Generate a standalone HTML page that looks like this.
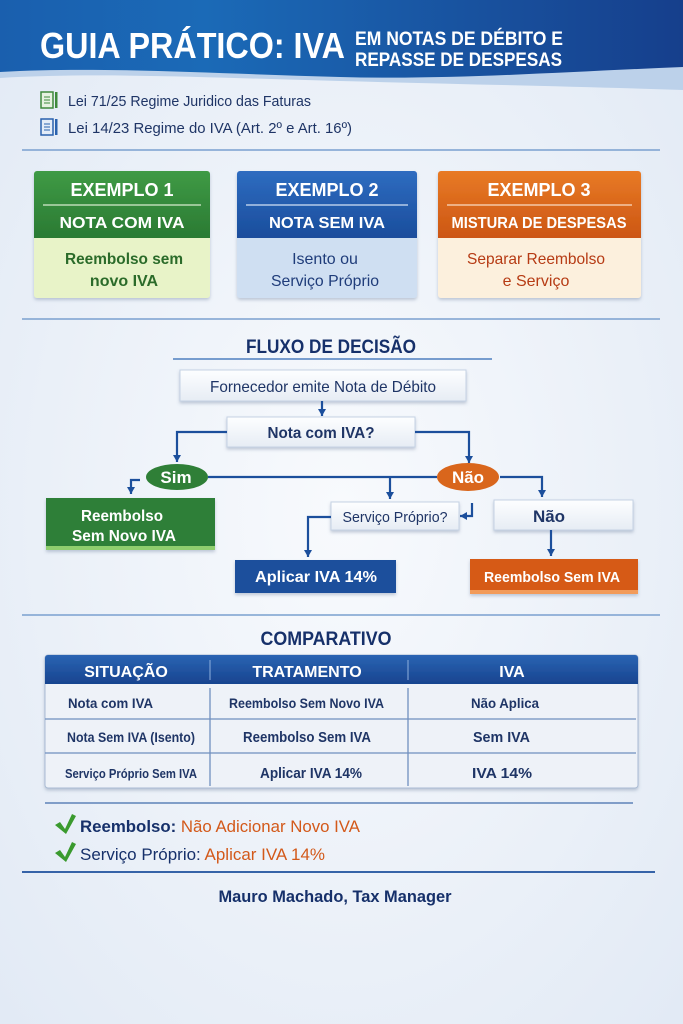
<!DOCTYPE html>
<html><head><meta charset="utf-8"><style>
html,body{margin:0;padding:0;width:683px;height:1024px;overflow:hidden}
text{font-family:"Liberation Sans Narrow","Liberation Sans",sans-serif;font-weight:bold}
</style></head><body>
<svg width="683" height="1024" viewBox="0 0 683 1024" xmlns="http://www.w3.org/2000/svg">
<defs>
<radialGradient id="bg" cx="50%" cy="50%" r="70%"><stop offset="0" stop-color="#f8fafd"/><stop offset="1" stop-color="#e2eaf5"/></radialGradient>
<linearGradient id="hd" x1="0" y1="0" x2="1" y2="0"><stop offset="0" stop-color="#1a5fae"/><stop offset="0.3" stop-color="#1b6ab7"/><stop offset="1" stop-color="#163f8c"/></linearGradient>
<linearGradient id="gH" x1="0" y1="0" x2="0" y2="1"><stop offset="0" stop-color="#3f9a45"/><stop offset="1" stop-color="#2a7a33"/></linearGradient>
<linearGradient id="bH" x1="0" y1="0" x2="0" y2="1"><stop offset="0" stop-color="#2e6cc0"/><stop offset="1" stop-color="#1a4d9c"/></linearGradient>
<linearGradient id="oH" x1="0" y1="0" x2="0" y2="1"><stop offset="0" stop-color="#e87a25"/><stop offset="1" stop-color="#cc5614"/></linearGradient>
<linearGradient id="tH" x1="0" y1="0" x2="0" y2="1"><stop offset="0" stop-color="#2a64b3"/><stop offset="1" stop-color="#18448f"/></linearGradient>
<linearGradient id="wb" x1="0" y1="0" x2="0" y2="1"><stop offset="0" stop-color="#fdfeff"/><stop offset="1" stop-color="#e6ecf4"/></linearGradient>
<marker id="ar" markerWidth="8" markerHeight="8" refX="7" refY="4" orient="auto" markerUnits="userSpaceOnUse"><path d="M0,0 L7,4 L0,8 Z" fill="#1c4f9c"/></marker>
<filter id="sh" x="-10%" y="-10%" width="120%" height="130%"><feDropShadow dx="0" dy="2" stdDeviation="1.5" flood-color="#5a6f90" flood-opacity="0.35"/></filter>
</defs>
<rect width="683" height="1024" fill="url(#bg)"/>
<!-- header -->
<path d="M0,0 H683 V90 C560,86 450,84 340,81 C220,78 100,72 0,78 Z" fill="#bcd1ea"/>
<path d="M0,0 H683 V67 C560,72 450,80 340,77 C220,74 100,66 0,72 Z" fill="url(#hd)"/>
<text x="40" y="58" font-size="36" fill="#fff" textLength="305" lengthAdjust="spacingAndGlyphs">GUIA PRÁTICO: IVA</text>
<text x="355" y="45" font-size="19" fill="#fff" textLength="208" lengthAdjust="spacingAndGlyphs">EM NOTAS DE DÉBITO E</text>
<text x="355" y="66" font-size="19" fill="#fff" textLength="207" lengthAdjust="spacingAndGlyphs">REPASSE DE DESPESAS</text>
<!-- laws -->
<g><rect x="41" y="92" width="12" height="16" fill="#e6f2e0" stroke="#3f8a3b" stroke-width="1.5"/><path d="M44,97h6M44,100h6M44,103h6" stroke="#3f8a3b"/><rect x="55" y="92" width="2.5" height="16" fill="#3f8a3b"/></g>
<text x="68" y="106" font-size="15" fill="#1f3566" style="font-weight:normal" textLength="243" lengthAdjust="spacingAndGlyphs">Lei 71/25 Regime Juridico das Faturas</text>
<g><rect x="41" y="119" width="12" height="16" fill="#e3ecf8" stroke="#2a62ae" stroke-width="1.5"/><path d="M44,124h6M44,127h6M44,130h6" stroke="#2a62ae"/><rect x="55" y="119" width="2.5" height="16" fill="#2a62ae"/></g>
<text x="68" y="133" font-size="15" fill="#1f3566" style="font-weight:normal" textLength="284" lengthAdjust="spacingAndGlyphs">Lei 14/23 Regime do IVA (Art. 2º e Art. 16º)</text>
<line x1="22" y1="150" x2="660" y2="150" stroke="#7aa0cf" stroke-width="1.5"/>
<!-- cards -->
<g filter="url(#sh)">
<rect x="34" y="171" width="176" height="127" rx="3" fill="#e8f3c8"/>
<path d="M34,174 a3,3 0 0 1 3,-3 h170 a3,3 0 0 1 3,3 V238 H34 Z" fill="url(#gH)"/>
<rect x="237" y="171" width="180" height="127" rx="3" fill="#cfdff2"/>
<path d="M237,174 a3,3 0 0 1 3,-3 h174 a3,3 0 0 1 3,3 V238 H237 Z" fill="url(#bH)"/>
<rect x="438" y="171" width="203" height="127" rx="3" fill="#fcf0dd"/>
<path d="M438,174 a3,3 0 0 1 3,-3 h197 a3,3 0 0 1 3,3 V238 H438 Z" fill="url(#oH)"/>
</g>
<line x1="43" y1="205" x2="201" y2="205" stroke="#d8ecd0" stroke-width="1.2"/>
<line x1="246" y1="205" x2="408" y2="205" stroke="#d4e2f5" stroke-width="1.2"/>
<line x1="447" y1="205" x2="632" y2="205" stroke="#fbdcc2" stroke-width="1.2"/>
<g font-size="18" fill="#fff" text-anchor="middle">
<text x="122" y="196">EXEMPLO 1</text><text x="327" y="196">EXEMPLO 2</text><text x="539" y="196">EXEMPLO 3</text>
</g>
<g font-size="16" fill="#fff" text-anchor="middle">
<text x="122" y="228" textLength="125" lengthAdjust="spacingAndGlyphs">NOTA COM IVA</text>
<text x="327" y="228" textLength="116" lengthAdjust="spacingAndGlyphs">NOTA SEM IVA</text>
<text x="539" y="228" textLength="175" lengthAdjust="spacingAndGlyphs">MISTURA DE DESPESAS</text>
</g>
<g font-size="16" text-anchor="middle">
<text x="124" y="264" fill="#2b6b2a" textLength="118" lengthAdjust="spacingAndGlyphs">Reembolso sem</text>
<text x="124" y="286" fill="#2b6b2a">novo IVA</text>
<text x="325" y="264" fill="#1f3c7a" style="font-weight:normal">Isento ou</text>
<text x="325" y="286" fill="#1f3c7a" style="font-weight:normal" textLength="108" lengthAdjust="spacingAndGlyphs">Serviço Próprio</text>
<text x="536" y="264" fill="#b63b14" style="font-weight:normal" textLength="138" lengthAdjust="spacingAndGlyphs">Separar Reembolso</text>
<text x="536" y="286" fill="#b63b14" style="font-weight:normal">e Serviço</text>
</g>
<line x1="22" y1="319" x2="660" y2="319" stroke="#7aa0cf" stroke-width="1.5"/>
<!-- flow -->
<text x="331" y="353" font-size="19" fill="#16306a" text-anchor="middle" textLength="170" lengthAdjust="spacingAndGlyphs">FLUXO DE DECISÃO</text>
<line x1="173" y1="359" x2="492" y2="359" stroke="#4e7fbf" stroke-width="1.5"/>
<g filter="url(#sh)">
<rect x="180" y="370" width="286" height="31" fill="url(#wb)" stroke="#c5d2e4"/>
<rect x="227" y="417" width="188" height="30" fill="url(#wb)" stroke="#c5d2e4"/>
<rect x="331" y="502" width="128" height="28" fill="url(#wb)" stroke="#c5d2e4"/>
<rect x="494" y="500" width="139" height="30" fill="url(#wb)" stroke="#c5d2e4"/>
<rect x="46" y="498" width="169" height="52" fill="#2f7f37"/>
<rect x="235" y="560" width="161" height="33" fill="#1c4f9c"/>
<rect x="470" y="559" width="168" height="35" fill="#d65a18"/>
</g>
<rect x="46" y="546" width="169" height="4" fill="#8fce6e"/>
<rect x="470" y="590" width="168" height="4" fill="#f29b5a"/>
<g stroke="#1c4f9c" stroke-width="2.2" fill="none">
<path d="M322,401 V416" marker-end="url(#ar)"/>
<path d="M227,432 H177 V462" marker-end="url(#ar)"/>
<path d="M415,432 H469 V463" marker-end="url(#ar)"/>
<path d="M208,477 H437"/>
<path d="M390,477 V499" marker-end="url(#ar)"/>
<path d="M500,477 H542 V497" marker-end="url(#ar)"/>
<path d="M140,480 H131 V494" marker-end="url(#ar)"/>
<path d="M472,503 V516 H460" marker-end="url(#ar)"/>
<path d="M331,517 H308 V557" marker-end="url(#ar)"/>
<path d="M551,530 V556" marker-end="url(#ar)"/>
</g>
<ellipse cx="177" cy="477" rx="31" ry="13" fill="#2f7f37"/>
<ellipse cx="468" cy="477" rx="31" ry="14" fill="#d9661c"/>
<g font-size="16" text-anchor="middle">
<text x="323" y="392" fill="#1f3566" style="font-weight:normal" textLength="226" lengthAdjust="spacingAndGlyphs">Fornecedor emite Nota de Débito</text>
<text x="321" y="438" fill="#1f3566" textLength="107" lengthAdjust="spacingAndGlyphs">Nota com IVA?</text>
<text x="176" y="483" fill="#fff" font-size="17">Sim</text>
<text x="468" y="483" fill="#fff" font-size="17">Não</text>
<text x="122" y="521" fill="#fff" textLength="82" lengthAdjust="spacingAndGlyphs">Reembolso</text>
<text x="124" y="541" fill="#fff" textLength="104" lengthAdjust="spacingAndGlyphs">Sem Novo IVA</text>
<text x="395" y="522" fill="#1f3566" style="font-weight:normal" font-size="15" textLength="105" lengthAdjust="spacingAndGlyphs">Serviço Próprio?</text>
<text x="549" y="522" fill="#1f3566" font-size="17">Não</text>
<text x="316" y="582" fill="#fff" textLength="122" lengthAdjust="spacingAndGlyphs">Aplicar IVA 14%</text>
<text x="552" y="582" fill="#fff" font-size="15" textLength="136" lengthAdjust="spacingAndGlyphs">Reembolso Sem IVA</text>
</g>
<line x1="22" y1="615" x2="660" y2="615" stroke="#7aa0cf" stroke-width="1.5"/>
<!-- table -->
<text x="326" y="645" font-size="19" fill="#16306a" text-anchor="middle" textLength="131" lengthAdjust="spacingAndGlyphs">COMPARATIVO</text>
<g filter="url(#sh)">
<rect x="45" y="655" width="593" height="133" rx="3" fill="#eef2f8" stroke="#aabbd4"/>
<path d="M45,658 a3,3 0 0 1 3,-3 h587 a3,3 0 0 1 3,3 V684 H45 Z" fill="url(#tH)"/>
</g>
<g stroke="#6f8fbf" stroke-width="1.3">
<line x1="45" y1="719" x2="636" y2="719"/><line x1="45" y1="753" x2="636" y2="753"/>
<line x1="210" y1="688" x2="210" y2="786"/><line x1="408" y1="688" x2="408" y2="786"/>
</g>
<line x1="210" y1="660" x2="210" y2="680" stroke="#8fb0dd"/><line x1="408" y1="660" x2="408" y2="680" stroke="#8fb0dd"/>
<g font-size="16" fill="#fff" text-anchor="middle">
<text x="126" y="677">SITUAÇÃO</text><text x="307" y="677">TRATAMENTO</text><text x="512" y="677">IVA</text>
</g>
<g font-size="14" fill="#1f3566" style="font-weight:normal">
<text x="68" y="708" textLength="85" lengthAdjust="spacingAndGlyphs">Nota com IVA</text>
<text x="67" y="742" textLength="128" lengthAdjust="spacingAndGlyphs">Nota Sem IVA (Isento)</text>
<text x="65" y="778" font-size="13" textLength="132" lengthAdjust="spacingAndGlyphs">Serviço Próprio Sem IVA</text>
<text x="229" y="708" textLength="155" lengthAdjust="spacingAndGlyphs">Reembolso Sem Novo IVA</text>
<text x="471" y="708" textLength="68" lengthAdjust="spacingAndGlyphs">Não Aplica</text>
</g>
<g font-size="15" fill="#1f3566">
<text x="243" y="742" textLength="128" lengthAdjust="spacingAndGlyphs">Reembolso Sem IVA</text>
<text x="260" y="778" textLength="102" lengthAdjust="spacingAndGlyphs">Aplicar IVA 14%</text>
<text x="473" y="742" textLength="57" lengthAdjust="spacingAndGlyphs">Sem IVA</text>
<text x="472" y="778" textLength="60" lengthAdjust="spacingAndGlyphs">IVA 14%</text>
</g>
<line x1="45" y1="803" x2="633" y2="803" stroke="#5d82b8" stroke-width="1.5"/>
<g fill="#3a9a2e"><path d="M55,825 L60,822 L65,829 L72,814 L76,816 L66,834 Z"/><path d="M55,853 L60,850 L65,857 L72,842 L76,844 L66,862 Z"/></g>
<g font-size="17">
<text x="80" y="832" textLength="280" lengthAdjust="spacingAndGlyphs"><tspan fill="#16306a">Reembolso: </tspan><tspan fill="#d3591a" style="font-weight:normal">Não Adicionar Novo IVA</tspan></text>
<text x="80" y="860" textLength="245" lengthAdjust="spacingAndGlyphs"><tspan fill="#16306a" style="font-weight:normal">Serviço Próprio: </tspan><tspan fill="#d3591a" style="font-weight:normal">Aplicar IVA 14%</tspan></text>
</g>
<line x1="22" y1="872" x2="655" y2="872" stroke="#1c4f9c" stroke-width="1.8"/>
<text x="335" y="902" font-size="17" fill="#16306a" text-anchor="middle" textLength="233" lengthAdjust="spacingAndGlyphs">Mauro Machado, Tax Manager</text>
</svg>
</body></html>
